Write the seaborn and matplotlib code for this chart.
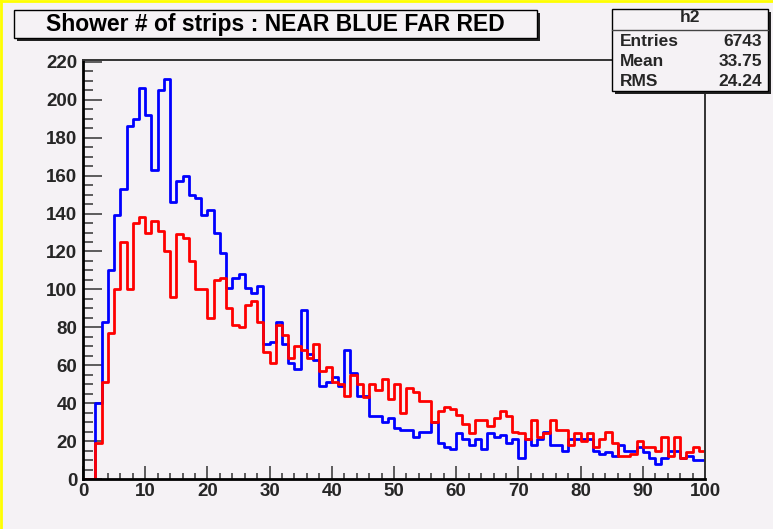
import numpy as np
import pandas as pd
import matplotlib
matplotlib.use("Agg")
import matplotlib.pyplot as plt
from matplotlib.patches import Rectangle
from matplotlib.lines import Line2D
from matplotlib.ticker import MultipleLocator
import seaborn as sns

# Shower strip-count histograms, one count per unit-wide bin from 0 to 100
bin_edges = list(range(0, 101))
near_counts = [
    0, 0, 40, 83, 110, 139, 153, 186, 190, 206,
    192, 163, 205, 211, 146, 157, 160, 150, 148, 139,
    142, 130, 119, 101, 106, 108, 101, 98, 102, 71,
    72, 83, 71, 61, 58, 89, 66, 63, 49, 51,
    54, 49, 68, 56, 44, 44, 33, 33, 30, 32,
    27, 26, 26, 22, 25, 25, 30, 19, 17, 16,
    24, 21, 18, 21, 16, 24, 22, 23, 19, 21,
    11, 21, 18, 21, 25, 18, 18, 15, 21, 21,
    21, 21, 15, 13, 14, 12, 18, 15, 15, 17,
    14, 11, 8, 11, 15, 15, 11, 12, 10, 10,
]
far_counts = [
    0, 0, 19, 51, 77, 100, 125, 100, 135, 138,
    130, 136, 131, 120, 96, 129, 127, 115, 100, 100,
    85, 105, 106, 90, 81, 80, 92, 94, 83, 67,
    61, 81, 76, 64, 70, 68, 64, 71, 57, 59,
    51, 50, 44, 55, 50, 43, 50, 47, 53, 42,
    50, 35, 48, 46, 41, 41, 30, 36, 38, 37,
    34, 29, 24, 31, 31, 28, 32, 36, 33, 25,
    24, 21, 31, 22, 24, 31, 26, 26, 18, 24,
    20, 24, 17, 21, 25, 19, 12, 12, 13, 20,
    17, 17, 15, 22, 12, 22, 11, 14, 17, 15,
]
title_text = "Shower # of strips : NEAR BLUE FAR RED"
stats_name = "h2"
stats_rows = [("Entries", "6743"), ("Mean", "33.75"), ("RMS", "24.24")]
x_ticks = list(range(0, 101, 10))
y_ticks = list(range(0, 221, 20))

W, H = 773, 529
BG = "#F5F2F5"

sns.set_theme(style="ticks")
plt.rcParams["font.family"] = ["Liberation Sans", "DejaVu Sans"]
plt.rcParams["font.weight"] = "bold"

fig = plt.figure(figsize=(W / 100, H / 100), dpi=100, facecolor=BG)
ax = fig.add_axes([83 / W, 1 - 479 / H, (705 - 83) / W, (479 - 60) / H])
ax.set_facecolor(BG)

df = pd.DataFrame({
    "strips": [e + 0.5 for e in bin_edges[:-1]],
    "near": near_counts,
    "far": far_counts,
})

sns.histplot(data=df, x="strips", weights="near", bins=bin_edges,
             element="step", fill=False, color="#0000FF", linewidth=2.0, ax=ax)
sns.histplot(data=df, x="strips", weights="far", bins=bin_edges,
             element="step", fill=False, color="#FF0000", linewidth=2.0, ax=ax)

ax.set_xlim(0, 100)
ax.set_ylim(0, 221)
ax.set_xlabel("")
ax.set_ylabel("")
ax.set_xticks(x_ticks)
ax.set_yticks(y_ticks)
ax.xaxis.set_minor_locator(MultipleLocator(2))
ax.yaxis.set_minor_locator(MultipleLocator(5))
ax.tick_params(axis="x", which="major", direction="in", length=9.5, width=1.1,
               color="#333333", labelsize=13.5, pad=3, top=False)
ax.tick_params(axis="x", which="minor", direction="in", length=4.5, width=1.1,
               color="#333333", top=False)
ax.tick_params(axis="y", which="major", direction="in", length=13.5, width=1.1,
               color="#333333", labelsize=13.5, pad=4, right=False)
ax.tick_params(axis="y", which="minor", direction="in", length=7, width=1.1,
               color="#333333", right=False)
for lbl in ax.get_xticklabels() + ax.get_yticklabels():
    lbl.set_fontweight("bold")

for side in ("left", "bottom"):
    ax.spines[side].set_linewidth(2.0)
    ax.spines[side].set_color("black")
for side in ("top", "right"):
    ax.spines[side].set_visible(True)
    ax.spines[side].set_linewidth(1.4)
    ax.spines[side].set_color("#333333")


def px_rect(x0, y0, x1, y1, **kw):
    return Rectangle((x0 / W, 1 - y1 / H), (x1 - x0) / W, (y1 - y0) / H,
                     transform=fig.transFigure, **kw)


# Title pad with drop shadow
fig.patches.append(px_rect(17, 13, 540, 41, facecolor="#222222", edgecolor="none", zorder=5))
fig.patches.append(px_rect(14, 10, 537, 38, facecolor=BG, edgecolor="black", linewidth=1.0, zorder=6))
fig.text(275 / W, 1 - 24.5 / H, title_text, ha="center", va="center",
         fontsize=16.5, fontweight="bold", color="black", zorder=7)

# Statistics box with drop shadow
fig.patches.append(px_rect(615, 12, 771, 94, facecolor="#222222", edgecolor="none", zorder=5))
fig.patches.append(px_rect(612, 9, 768, 91, facecolor=BG, edgecolor="black", linewidth=1.0, zorder=6))
fig.add_artist(Line2D([612 / W, 768 / W], [1 - 30 / H, 1 - 30 / H],
                      transform=fig.transFigure, color="#444444", linewidth=1.0, zorder=7))
fig.text(690 / W, 1 - 18 / H, stats_name, ha="center", va="center",
         fontsize=12.5, fontweight="bold", zorder=7)
for i, (name, value) in enumerate(stats_rows):
    y = 1 - (41 + 20.5 * i) / H
    fig.text(620 / W, y, name, ha="left", va="center", fontsize=12.5,
             fontweight="bold", zorder=7)
    fig.text(762 / W, y, value, ha="right", va="center", fontsize=12.5,
             fontweight="bold", zorder=7)

# Canvas border
fig.add_artist(Line2D([0, 1], [1 - 1 / H, 1 - 1 / H], transform=fig.transFigure,
                      color="#FFFF00", linewidth=2.0, zorder=10))
fig.add_artist(Line2D([1 / W, 1 / W], [0, 1], transform=fig.transFigure,
                      color="#FFFF00", linewidth=2.0, zorder=10))

fig.savefig("out.png", dpi=100, facecolor=BG)
